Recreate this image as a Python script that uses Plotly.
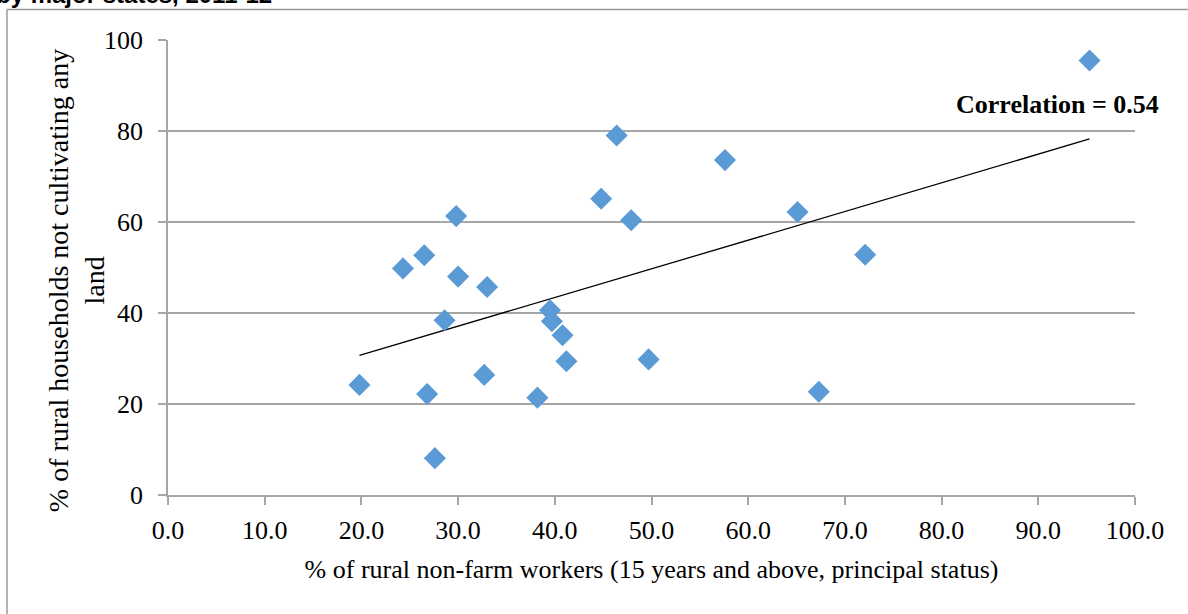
import numpy as np
import plotly.graph_objects as go

# % of rural non-farm workers (15 years and above, principal status)
nonfarm = [19.8, 24.3, 26.5, 26.8, 27.6, 28.6, 29.8, 30.0, 33.0, 32.7, 38.2, 39.5,
           39.7, 40.8, 41.2, 44.8, 46.4, 47.9, 49.7, 57.6, 65.1, 67.3, 72.1, 95.3]
# % of rural households not cultivating any land
nocultivate = [24.2, 49.8, 52.7, 22.2, 8.1, 38.4, 61.3, 48.0, 45.7, 26.4, 21.4, 40.6,
               38.2, 35.1, 29.4, 65.1, 79.0, 60.4, 29.8, 73.6, 62.2, 22.7, 52.8, 95.5]

x_ticks = [0, 10, 20, 30, 40, 50, 60, 70, 80, 90, 100]
y_ticks = [0, 20, 40, 60, 80, 100]
corr_label = "Correlation = 0.54"
title_text = "by major states, 2011-12"
x_title = "% of rural non-farm workers (15 years and above, principal status)"
y_title = "% of rural households not cultivating any<br>land"

xs = np.array(nonfarm)
ys = np.array(nocultivate)
slope, intercept = np.polyfit(xs, ys, 1)
trend_x = [xs.min(), xs.max()]
trend_y = [slope * v + intercept for v in trend_x]

serif = "Liberation Serif, Times New Roman, serif"
grid = "#A6A6A6"

fig = go.Figure()
fig.add_trace(go.Scatter(x=trend_x, y=trend_y, mode="lines",
                         line=dict(color="black", width=1.3), showlegend=False,
                         hoverinfo="skip"))
fig.add_trace(go.Scatter(x=nonfarm, y=nocultivate, mode="markers",
                         marker=dict(symbol="diamond", size=17, color="#5B9BD5",
                                     line=dict(width=0)),
                         showlegend=False))

fig.update_layout(
    width=1188, height=614,
    margin=dict(l=168, r=53, t=40, b=119),
    paper_bgcolor="white", plot_bgcolor="white",
    font=dict(family=serif, color="black", size=26),
    xaxis=dict(range=[0, 100], tickvals=x_ticks,
               ticktext=[f"{v:.1f}" for v in x_ticks],
               showgrid=False, zeroline=False,
               showline=True, linecolor=grid, linewidth=1.5,
               ticks="outside", ticklen=8, tickcolor=grid, tickwidth=1.5,
               ticklabelstandoff=3,
               tickfont=dict(family=serif, size=26),
               title=dict(text=x_title, font=dict(family=serif, size=26), standoff=16)),
    yaxis=dict(range=[0, 100], tickvals=y_ticks,
               showgrid=True, gridcolor=grid, gridwidth=1.5, zeroline=False,
               showline=True, linecolor=grid, linewidth=1.5,
               ticks="outside", ticklen=8, tickcolor=grid, tickwidth=1.5,
               ticklabelstandoff=10,
               tickfont=dict(family=serif, size=26)),
    annotations=[
        dict(x=-0.0951, y=0.47, xref="paper", yref="paper", text=y_title,
             textangle=-90, showarrow=False, xanchor="center", yanchor="middle",
             font=dict(family=serif, size=28, color="black")),
        dict(x=92.0, y=85.9, xref="x", yref="y", text=f"<b>{corr_label}</b>",
             showarrow=False, font=dict(family=serif, size=26, color="black")),
        dict(x=-0.18, y=1.101, xref="paper", yref="paper", xanchor="left",
             yanchor="middle", text=f"<b>{title_text}</b>", showarrow=False,
             font=dict(family="Liberation Sans, Arial, sans-serif", size=24, color="black")),
    ],
    shapes=[
        dict(type="line", xref="paper", yref="paper", x0=-0.1665, x1=1.2,
             y0=1.067, y1=1.067, line=dict(color="#999999", width=1.5)),
        dict(type="line", xref="paper", yref="paper", x0=-0.1665, x1=-0.1665,
             y0=1.067, y1=-0.5, line=dict(color="#999999", width=1.5)),
    ],
)

fig.write_html("out.html", config={"displayModeBar": False},
               post_script="document.body.style.margin='0px';")
